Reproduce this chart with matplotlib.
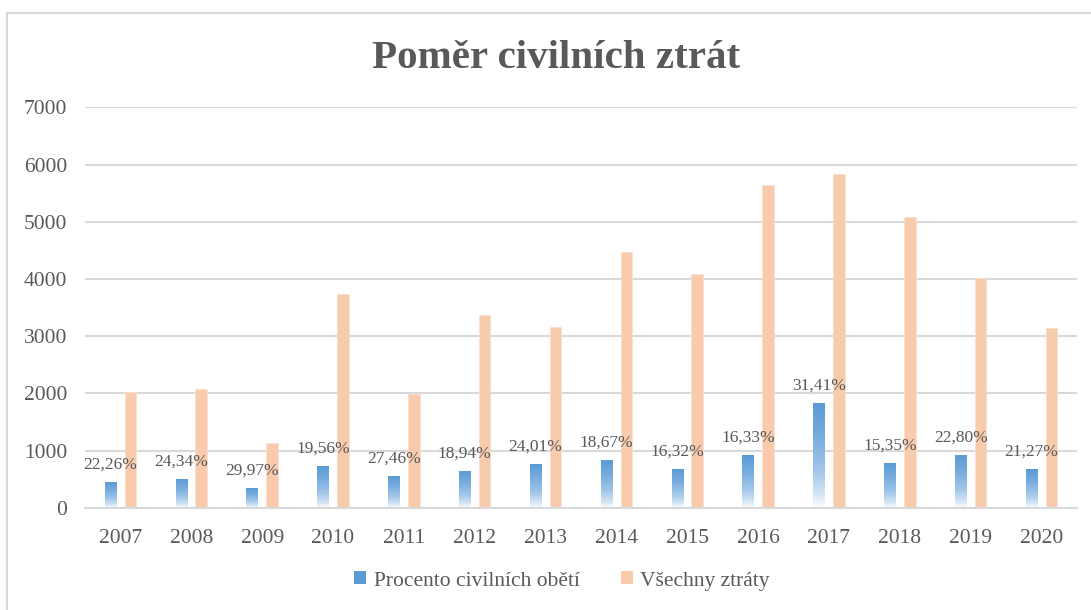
import numpy as np
import matplotlib
matplotlib.use("Agg")
import matplotlib.pyplot as plt
from matplotlib.colors import LinearSegmentedColormap
from matplotlib.patches import Rectangle, Patch

years = ["2007", "2008", "2009", "2010", "2011", "2012", "2013",
         "2014", "2015", "2016", "2017", "2018", "2019", "2020"]
civilian = [445, 500, 338, 725, 543, 630, 752, 830, 665, 915, 1830, 775, 912, 665]
total = [2028, 2070, 1136, 3733, 1988, 3364, 3161, 4464, 4092, 5643, 5834, 5077, 4012, 3138]
percent_labels = ["22,26%", "24,34%", "29,97%", "19,56%", "27,46%", "18,94%", "24,01%",
                  "18,67%", "16,32%", "16,33%", "31,41%", "15,35%", "22,80%", "21,27%"]
series_names = ["Procento civilních obětí", "Všechny ztráty"]
title = "Poměr civilních ztrát"

TXT = "#595959"
BLUE = "#5B9BD5"
ORANGE = "#F8CBAD"
GRID = "#D9D9D9"

plt.rcParams["font.family"] = ["Liberation Serif", "DejaVu Serif"]

fig = plt.figure(figsize=(10.91, 6.10), dpi=100)
# outer chart frame
fig.patches.append(Rectangle((7 / 1091, -0.1), 1.2, 1 - 13 / 610 + 0.1,
                             transform=fig.transFigure, fill=False,
                             edgecolor="#D9D9D9", linewidth=1.5, zorder=0))

ax = fig.add_axes([85 / 1091, 1 - 507.7 / 610, (1077 - 85) / 1091, (507.7 - 107.3) / 610])

x = np.arange(len(years))
w = 0.165
off = 0.14

cmap = LinearSegmentedColormap.from_list(
    "bg", [(0.0, "#FFFFFF"), (0.12, "#D6E6F5"), (0.35, "#A3C7EA"), (0.7, "#76ABDD"), (1.0, BLUE)])
grad = np.linspace(0, 1, 256).reshape(-1, 1)

for xi, v in zip(x, civilian):
    ax.imshow(grad, cmap=cmap, origin="lower", aspect="auto",
              extent=[xi - off - w / 2, xi - off + w / 2, 0, v], zorder=2)
ax.bar(x + off, total, width=w, color=ORANGE, edgecolor="#FBE0CF", linewidth=0.6, zorder=2)

for xi, v, lab in zip(x, civilian, percent_labels):
    ax.annotate(lab, (xi - off, v), xytext=(0, 7), textcoords="offset points",
                ha="center", va="bottom", fontsize=12.5, color=TXT, zorder=3)

ax.set_xlim(-0.5, len(years) - 0.5)
ax.set_ylim(0, 7000)
ax.set_yticks(range(0, 7001, 1000))
ax.set_xticks(x)
ax.set_xticklabels(years)
ax.yaxis.grid(True, color=GRID, linewidth=1.5, zorder=0)
ax.set_axisbelow(True)
for s in ["left", "right", "top"]:
    ax.spines[s].set_visible(False)
ax.spines["bottom"].set_color(GRID)
ax.spines["bottom"].set_linewidth(1.5)
ax.tick_params(axis="both", length=0, labelsize=15.5, labelcolor=TXT)
ax.tick_params(axis="y", pad=13)
ax.tick_params(axis="x", pad=15)

fig.text(556 / 1091, 1 - 59 / 610, title, ha="center", va="center",
         fontsize=29.5, fontweight="bold", color=TXT)

handles = [Patch(facecolor=BLUE), Patch(facecolor=ORANGE)]
fig.legend(handles, series_names, loc="center", bbox_to_anchor=(562 / 1091, 1 - 581 / 610),
           ncol=2, frameon=False, fontsize=15.5, labelcolor=TXT,
           handlelength=0.55, handleheight=0.55, handletextpad=0.35, columnspacing=1.9)

fig.savefig("out.png", dpi=100)
